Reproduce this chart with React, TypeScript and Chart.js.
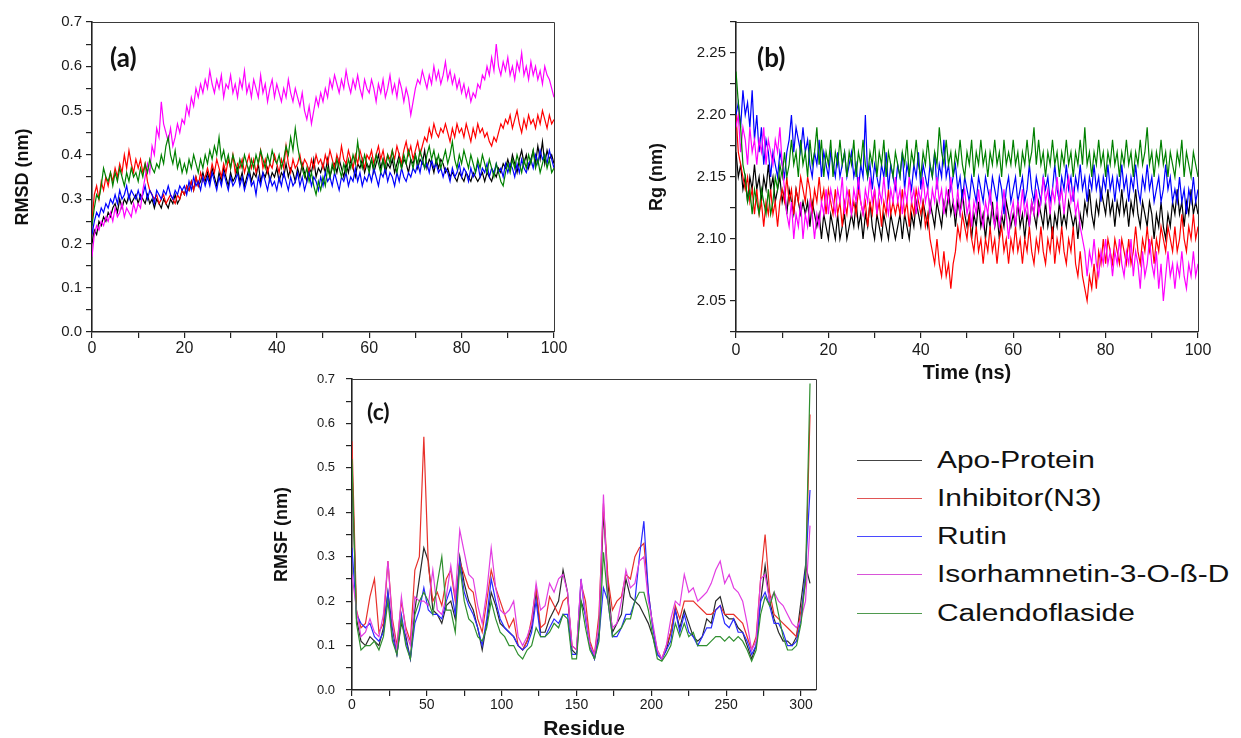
import React, { useEffect, useRef } from "react";
import { Chart, registerables } from "chart.js";

Chart.register(...registerables);

const FONT = '"Liberation Sans", Arial, sans-serif';

// ---------- series names & colours ----------
const SERIES_NAMES = ["Apo-Protein", "Inhibitor(N3)", "Rutin", "Isorhamnetin-3-O-ß-D", "Calendoflaside"];
const LINE_COLORS = ["#000000", "#ff0000", "#0000ff", "#ff00ff", "#008000"];
const RMSF_COLORS = ["#2a2a2a", "#e8302a", "#2a2aff", "#e23ee2", "#2f8f2f"];
const LEGEND_COLORS = ["#444444", "#e05555", "#4a4aff", "#d855d8", "#4f9a4f"];

// ---------- x values ----------
const TIME = [
  0, 0.5, 1, 1.5, 2, 2.5, 3, 3.5, 4, 4.5, 5, 5.5, 6, 6.5, 7, 7.5, 8, 8.5, 9, 9.5,
  10, 10.5, 11, 11.5, 12, 12.5, 13, 13.5, 14, 14.5, 15, 15.5, 16, 16.5, 17, 17.5, 18, 18.5, 19, 19.5,
  20, 20.5, 21, 21.5, 22, 22.5, 23, 23.5, 24, 24.5, 25, 25.5, 26, 26.5, 27, 27.5, 28, 28.5, 29, 29.5,
  30, 30.5, 31, 31.5, 32, 32.5, 33, 33.5, 34, 34.5, 35, 35.5, 36, 36.5, 37, 37.5, 38, 38.5, 39, 39.5,
  40, 40.5, 41, 41.5, 42, 42.5, 43, 43.5, 44, 44.5, 45, 45.5, 46, 46.5, 47, 47.5, 48, 48.5, 49, 49.5,
  50, 50.5, 51, 51.5, 52, 52.5, 53, 53.5, 54, 54.5, 55, 55.5, 56, 56.5, 57, 57.5, 58, 58.5, 59, 59.5,
  60, 60.5, 61, 61.5, 62, 62.5, 63, 63.5, 64, 64.5, 65, 65.5, 66, 66.5, 67, 67.5, 68, 68.5, 69, 69.5,
  70, 70.5, 71, 71.5, 72, 72.5, 73, 73.5, 74, 74.5, 75, 75.5, 76, 76.5, 77, 77.5, 78, 78.5, 79, 79.5,
  80, 80.5, 81, 81.5, 82, 82.5, 83, 83.5, 84, 84.5, 85, 85.5, 86, 86.5, 87, 87.5, 88, 88.5, 89, 89.5,
  90, 90.5, 91, 91.5, 92, 92.5, 93, 93.5, 94, 94.5, 95, 95.5, 96, 96.5, 97, 97.5, 98, 98.5, 99, 99.5,
  100,
];
const RESIDUE = [
  0, 3, 6, 9, 12, 15, 18, 21, 24, 27, 30, 33, 36, 39, 42, 45, 48, 51, 54, 57,
  60, 63, 66, 69, 72, 75, 78, 81, 84, 87, 90, 93, 96, 99, 102, 105, 108, 111, 114, 117,
  120, 123, 126, 129, 132, 135, 138, 141, 144, 147, 150, 153, 156, 159, 162, 165, 168, 171, 174, 177,
  180, 183, 186, 189, 192, 195, 198, 201, 204, 207, 210, 213, 216, 219, 222, 225, 228, 231, 234, 237,
  240, 243, 246, 249, 252, 255, 258, 261, 264, 267, 270, 273, 276, 279, 282, 285, 288, 291, 294, 297,
  300, 303, 306,
];

// ---------- tick values ----------
const TIME_TICKS = [0, 10, 20, 30, 40, 50, 60, 70, 80, 90, 100];
const NM_TICKS = [0, 0.05, 0.1, 0.15, 0.2, 0.25, 0.3, 0.35, 0.4, 0.45, 0.5, 0.55, 0.6, 0.65, 0.7];
const RG_TICKS = [2.025, 2.05, 2.075, 2.1, 2.125, 2.15, 2.175, 2.2, 2.225, 2.25, 2.275];
const RESIDUE_TICKS = [0, 25, 50, 75, 100, 125, 150, 175, 200, 225, 250, 275, 300];

// ---------- (a) RMSD (nm), every 0.5 ns ----------
const RMSD_APO = [
  0.20, 0.23, 0.22, 0.25, 0.24, 0.26, 0.25, 0.27, 0.26, 0.28,
  0.29, 0.27, 0.30, 0.28, 0.30, 0.29, 0.31, 0.29, 0.30, 0.31,
  0.29, 0.31, 0.30, 0.29, 0.31, 0.29, 0.30, 0.28, 0.30, 0.29,
  0.28, 0.30, 0.29, 0.28, 0.30, 0.29, 0.31, 0.29, 0.30, 0.32,
  0.31, 0.33, 0.32, 0.34, 0.32, 0.35, 0.33, 0.34, 0.36, 0.34,
  0.36, 0.34, 0.37, 0.35, 0.33, 0.36, 0.34, 0.37, 0.35, 0.33,
  0.36, 0.34, 0.35, 0.37, 0.34, 0.36, 0.33, 0.35, 0.37, 0.34,
  0.36, 0.35, 0.38, 0.34, 0.36, 0.35, 0.37, 0.34, 0.36, 0.35,
  0.37, 0.34, 0.36, 0.35, 0.38, 0.35, 0.37, 0.36, 0.34, 0.37,
  0.35, 0.38, 0.36, 0.34, 0.37, 0.36, 0.39, 0.35, 0.37, 0.36,
  0.38, 0.36, 0.39, 0.35, 0.37, 0.38, 0.36, 0.39, 0.37, 0.35,
  0.38, 0.36, 0.39, 0.37, 0.35, 0.38, 0.37, 0.39, 0.36, 0.38,
  0.37, 0.39, 0.36, 0.38, 0.40, 0.37, 0.39, 0.36, 0.38, 0.37,
  0.39, 0.36, 0.38, 0.40, 0.37, 0.39, 0.38, 0.36, 0.39, 0.38,
  0.40, 0.37, 0.39, 0.38, 0.41, 0.37, 0.39, 0.38, 0.36, 0.39,
  0.37, 0.39, 0.38, 0.36, 0.37, 0.35, 0.36, 0.35, 0.34, 0.36,
  0.35, 0.34, 0.36, 0.35, 0.34, 0.36, 0.35, 0.34, 0.35, 0.36,
  0.34, 0.36, 0.35, 0.34, 0.36, 0.35, 0.37, 0.36, 0.38, 0.37,
  0.39, 0.37, 0.40, 0.38, 0.36, 0.39, 0.41, 0.38, 0.40, 0.37,
  0.39, 0.41, 0.38, 0.42, 0.39, 0.43, 0.38, 0.41, 0.39, 0.40,
  0.38,
];
const RMSD_N3 = [
  0.25, 0.31, 0.33, 0.30, 0.34, 0.32, 0.35, 0.33, 0.36, 0.34,
  0.37, 0.35, 0.38, 0.36, 0.40, 0.37, 0.41, 0.38, 0.36, 0.39,
  0.37, 0.39, 0.36, 0.38, 0.34, 0.32, 0.31, 0.30, 0.31, 0.29,
  0.30, 0.31, 0.29, 0.30, 0.31, 0.30, 0.29, 0.31, 0.30, 0.32,
  0.31, 0.33, 0.32, 0.34, 0.32, 0.35, 0.33, 0.36, 0.34, 0.35,
  0.37, 0.35, 0.38, 0.36, 0.39, 0.37, 0.35, 0.38, 0.36, 0.39,
  0.37, 0.40, 0.36, 0.38, 0.37, 0.39, 0.36, 0.38, 0.40, 0.37,
  0.39, 0.36, 0.38, 0.41, 0.37, 0.39, 0.36, 0.38, 0.37, 0.40,
  0.38, 0.36, 0.39, 0.37, 0.42, 0.38, 0.36, 0.39, 0.37, 0.38,
  0.40, 0.37, 0.39, 0.38, 0.36, 0.39, 0.37, 0.40, 0.38, 0.39,
  0.37, 0.40, 0.38, 0.41, 0.39, 0.37, 0.40, 0.38, 0.42, 0.39,
  0.38, 0.41, 0.39, 0.37, 0.40, 0.38, 0.41, 0.39, 0.37, 0.40,
  0.39, 0.41, 0.38, 0.40, 0.42, 0.39, 0.41, 0.38, 0.40, 0.39,
  0.41, 0.39, 0.42, 0.40, 0.38, 0.41, 0.43, 0.40, 0.42, 0.39,
  0.41, 0.43, 0.40, 0.42, 0.44, 0.43, 0.46, 0.44, 0.47, 0.45,
  0.44, 0.46, 0.45, 0.47, 0.45, 0.43, 0.46, 0.44, 0.47, 0.45,
  0.46, 0.44, 0.47, 0.45, 0.43, 0.46, 0.44, 0.47, 0.45, 0.46,
  0.44, 0.45, 0.43, 0.42, 0.44, 0.43, 0.45, 0.47, 0.46, 0.48,
  0.47, 0.49, 0.46, 0.48, 0.50, 0.47, 0.45, 0.48, 0.46, 0.49,
  0.47, 0.48, 0.46, 0.49, 0.47, 0.50, 0.48, 0.46, 0.49, 0.47,
  0.48,
];
const RMSD_RUTIN = [
  0.22, 0.25, 0.27, 0.26, 0.28, 0.27, 0.29, 0.28, 0.30, 0.29,
  0.31, 0.29, 0.32, 0.30, 0.31, 0.33, 0.30, 0.32, 0.31, 0.30,
  0.32, 0.30, 0.31, 0.33, 0.30, 0.32, 0.31, 0.29, 0.32, 0.31,
  0.30, 0.32, 0.31, 0.33, 0.31, 0.30, 0.32, 0.31, 0.33, 0.32,
  0.33, 0.31, 0.34, 0.32, 0.35, 0.33, 0.34, 0.32, 0.35, 0.33,
  0.35, 0.33, 0.36, 0.34, 0.32, 0.35, 0.33, 0.36, 0.34, 0.32,
  0.35, 0.33, 0.34, 0.36, 0.33, 0.35, 0.32, 0.34, 0.36, 0.33,
  0.34, 0.31, 0.35, 0.33, 0.36, 0.34, 0.32, 0.35, 0.33, 0.34,
  0.32, 0.35, 0.33, 0.36, 0.34, 0.32, 0.35, 0.33, 0.34, 0.36,
  0.33, 0.35, 0.32, 0.34, 0.36, 0.33, 0.35, 0.34, 0.32, 0.35,
  0.33, 0.36, 0.34, 0.35, 0.33, 0.36, 0.34, 0.32, 0.35, 0.34,
  0.36, 0.33, 0.35, 0.34, 0.37, 0.34, 0.36, 0.33, 0.35, 0.34,
  0.36, 0.34, 0.37, 0.35, 0.33, 0.36, 0.35, 0.37, 0.34, 0.36,
  0.35, 0.33, 0.36, 0.34, 0.37, 0.35, 0.34, 0.36, 0.35, 0.37,
  0.36, 0.38, 0.36, 0.39, 0.37, 0.38, 0.36, 0.39, 0.37, 0.38,
  0.36, 0.37, 0.35, 0.37, 0.36, 0.34, 0.37, 0.35, 0.36, 0.38,
  0.35, 0.37, 0.36, 0.34, 0.37, 0.35, 0.36, 0.38, 0.35, 0.37,
  0.36, 0.38, 0.35, 0.37, 0.36, 0.38, 0.36, 0.37, 0.35, 0.38,
  0.36, 0.38, 0.37, 0.35, 0.38, 0.36, 0.39, 0.37, 0.36, 0.38,
  0.39, 0.37, 0.40, 0.38, 0.41, 0.39, 0.40, 0.38, 0.41, 0.39,
  0.37,
];
const RMSD_ISO = [
  0.17, 0.22, 0.24, 0.23, 0.25, 0.24, 0.26, 0.25, 0.27, 0.25,
  0.28, 0.26, 0.27, 0.29, 0.26, 0.28, 0.27, 0.26, 0.29, 0.27,
  0.29, 0.28, 0.32, 0.35, 0.38, 0.36, 0.42, 0.40, 0.46, 0.44,
  0.52, 0.47, 0.45, 0.43, 0.46, 0.42, 0.44, 0.47, 0.45, 0.48,
  0.47, 0.51, 0.49, 0.53, 0.51, 0.55, 0.53, 0.56, 0.54, 0.57,
  0.55, 0.59, 0.56, 0.54, 0.57, 0.55, 0.58, 0.53, 0.56, 0.55,
  0.58, 0.54, 0.56, 0.53, 0.57, 0.55, 0.59, 0.54, 0.56, 0.53,
  0.57, 0.55, 0.53, 0.58, 0.54, 0.56, 0.52, 0.55, 0.57, 0.53,
  0.56, 0.54, 0.52, 0.55, 0.53, 0.57, 0.54, 0.52, 0.55, 0.53,
  0.51, 0.54, 0.50, 0.48, 0.51, 0.47, 0.50, 0.53, 0.51, 0.54,
  0.52, 0.55, 0.53, 0.57, 0.55, 0.58, 0.56, 0.54, 0.57, 0.55,
  0.59, 0.56, 0.54, 0.57, 0.55, 0.58, 0.55, 0.53, 0.57, 0.55,
  0.54, 0.57, 0.55, 0.52, 0.56, 0.54, 0.57, 0.53, 0.55, 0.58,
  0.54, 0.56, 0.53, 0.57, 0.55, 0.52, 0.55, 0.53, 0.49, 0.52,
  0.55, 0.57, 0.56, 0.59, 0.57, 0.55, 0.58, 0.56, 0.60, 0.57,
  0.59, 0.56, 0.58, 0.61, 0.57, 0.59, 0.56, 0.58, 0.55, 0.57,
  0.54, 0.56, 0.53, 0.55, 0.52, 0.54, 0.53, 0.56, 0.55, 0.58,
  0.57, 0.60, 0.58, 0.62, 0.59, 0.65, 0.60, 0.58, 0.61, 0.59,
  0.62, 0.58, 0.60, 0.57, 0.61, 0.59, 0.63, 0.58, 0.60, 0.57,
  0.61, 0.58, 0.60, 0.57, 0.59, 0.56, 0.60, 0.58, 0.57, 0.55,
  0.53,
];
const RMSD_CAL = [
  0.24, 0.28, 0.31, 0.30, 0.33, 0.37, 0.35, 0.34, 0.36, 0.33,
  0.36, 0.34, 0.37, 0.35, 0.33, 0.36, 0.34, 0.37, 0.35, 0.36,
  0.34, 0.37, 0.35, 0.38, 0.36, 0.39, 0.37, 0.36, 0.38, 0.37,
  0.40, 0.38, 0.42, 0.44, 0.40, 0.38, 0.41, 0.37, 0.39, 0.36,
  0.38, 0.36, 0.39, 0.37, 0.40, 0.38, 0.36, 0.39, 0.37, 0.40,
  0.38, 0.41, 0.39, 0.42, 0.40, 0.44, 0.39, 0.41, 0.38, 0.40,
  0.37, 0.40, 0.38, 0.36, 0.39, 0.37, 0.40, 0.38, 0.36, 0.39,
  0.37, 0.40, 0.38, 0.41, 0.39, 0.37, 0.40, 0.38, 0.41, 0.39,
  0.38, 0.40, 0.37, 0.39, 0.42, 0.40, 0.44, 0.41, 0.46, 0.42,
  0.39, 0.37, 0.35, 0.37, 0.34, 0.36, 0.33, 0.31, 0.34, 0.32,
  0.35, 0.33, 0.37, 0.35, 0.38, 0.36, 0.39, 0.37, 0.35, 0.38,
  0.36, 0.39, 0.37, 0.40, 0.38, 0.43, 0.39, 0.37, 0.40, 0.38,
  0.36, 0.39, 0.37, 0.40, 0.38, 0.36, 0.39, 0.37, 0.40, 0.38,
  0.41, 0.38, 0.36, 0.39, 0.37, 0.40, 0.38, 0.41, 0.39, 0.37,
  0.40, 0.38, 0.41, 0.39, 0.37, 0.40, 0.42, 0.39, 0.41, 0.38,
  0.40, 0.37, 0.39, 0.41, 0.38, 0.40, 0.43, 0.39, 0.37, 0.40,
  0.38, 0.41, 0.39, 0.37, 0.40, 0.38, 0.36, 0.39, 0.37, 0.40,
  0.38, 0.36, 0.39, 0.37, 0.35, 0.38, 0.36, 0.34, 0.33, 0.36,
  0.38, 0.36, 0.39, 0.37, 0.40, 0.38, 0.36, 0.39, 0.37, 0.40,
  0.38, 0.41, 0.37, 0.39, 0.36, 0.38, 0.40, 0.37, 0.39, 0.36,
  0.37,
];

// ---------- (b) Rg (nm), every 0.5 ns ----------
const RG_APO = [
  2.17, 2.15, 2.16, 2.14, 2.15, 2.13, 2.15, 2.14, 2.16, 2.14,
  2.15, 2.13, 2.15, 2.14, 2.16, 2.14, 2.15, 2.13, 2.14, 2.15,
  2.13, 2.14, 2.12, 2.14, 2.13, 2.12, 2.14, 2.13, 2.12, 2.13,
  2.12, 2.13, 2.11, 2.13, 2.12, 2.11, 2.12, 2.10, 2.12, 2.11,
  2.10, 2.12, 2.11, 2.10, 2.12, 2.10, 2.11, 2.12, 2.10, 2.11,
  2.12, 2.11, 2.13, 2.11, 2.12, 2.10, 2.12, 2.11, 2.13, 2.11,
  2.10, 2.12, 2.11, 2.10, 2.12, 2.11, 2.10, 2.12, 2.11, 2.10,
  2.11, 2.12, 2.10, 2.12, 2.11, 2.10, 2.12, 2.11, 2.13, 2.12,
  2.11, 2.13, 2.12, 2.11, 2.13, 2.12, 2.11, 2.13, 2.12, 2.11,
  2.13, 2.12, 2.14, 2.12, 2.13, 2.11, 2.13, 2.12, 2.14, 2.12,
  2.11, 2.12, 2.10, 2.12, 2.11, 2.13, 2.11, 2.12, 2.10, 2.12,
  2.11, 2.13, 2.11, 2.12, 2.10, 2.12, 2.11, 2.13, 2.12, 2.11,
  2.12, 2.11, 2.13, 2.11, 2.12, 2.10, 2.12, 2.11, 2.13, 2.12,
  2.11, 2.13, 2.12, 2.11, 2.13, 2.11, 2.12, 2.10, 2.12, 2.11,
  2.13, 2.11, 2.12, 2.11, 2.13, 2.12, 2.11, 2.12, 2.10, 2.12,
  2.11, 2.13, 2.12, 2.14, 2.12, 2.11, 2.13, 2.12, 2.14, 2.13,
  2.12, 2.14, 2.12, 2.13, 2.11, 2.13, 2.12, 2.14, 2.12, 2.13,
  2.11, 2.13, 2.12, 2.14, 2.12, 2.11, 2.13, 2.12, 2.11, 2.13,
  2.12, 2.10, 2.12, 2.11, 2.13, 2.11, 2.10, 2.12, 2.11, 2.13,
  2.12, 2.14, 2.12, 2.13, 2.11, 2.13, 2.12, 2.14, 2.12, 2.13,
  2.12,
];
const RG_N3 = [
  2.20, 2.17, 2.16, 2.15, 2.14, 2.15, 2.13, 2.14, 2.12, 2.14,
  2.12, 2.13, 2.11, 2.13, 2.12, 2.14, 2.12, 2.13, 2.11, 2.13,
  2.14, 2.13, 2.15, 2.13, 2.14, 2.12, 2.14, 2.13, 2.15, 2.14,
  2.13, 2.15, 2.14, 2.12, 2.14, 2.13, 2.15, 2.13, 2.14, 2.12,
  2.14, 2.13, 2.12, 2.14, 2.12, 2.13, 2.11, 2.13, 2.12, 2.14,
  2.12, 2.13, 2.12, 2.14, 2.13, 2.12, 2.13, 2.11, 2.13, 2.12,
  2.14, 2.12, 2.13, 2.11, 2.13, 2.12, 2.14, 2.12, 2.13, 2.12,
  2.13, 2.12, 2.14, 2.12, 2.13, 2.11, 2.13, 2.12, 2.14, 2.13,
  2.12, 2.13, 2.11, 2.12, 2.10, 2.09, 2.08, 2.10, 2.08, 2.07,
  2.09, 2.07, 2.08, 2.06, 2.08, 2.09, 2.11, 2.10, 2.12, 2.11,
  2.10, 2.12, 2.10, 2.09, 2.11, 2.09, 2.10, 2.08, 2.10, 2.09,
  2.11, 2.09, 2.10, 2.08, 2.10, 2.11, 2.09, 2.10, 2.08, 2.10,
  2.09, 2.11, 2.09, 2.10, 2.08, 2.10, 2.09, 2.11, 2.09, 2.08,
  2.10, 2.09, 2.11, 2.09, 2.08, 2.10, 2.09, 2.11, 2.08, 2.10,
  2.09, 2.11, 2.09, 2.08, 2.10, 2.09, 2.11, 2.08, 2.07, 2.09,
  2.07, 2.06, 2.05, 2.07, 2.06, 2.08, 2.06, 2.09, 2.08, 2.10,
  2.08, 2.10, 2.09, 2.08, 2.10, 2.09, 2.08, 2.10, 2.09, 2.08,
  2.10, 2.08, 2.09, 2.11, 2.09, 2.08, 2.10, 2.09, 2.11, 2.09,
  2.10, 2.08, 2.10, 2.09, 2.11, 2.10, 2.09, 2.11, 2.10, 2.09,
  2.11, 2.09, 2.10, 2.12, 2.10, 2.09, 2.11, 2.10, 2.12, 2.10,
  2.11,
];
const RG_RUTIN = [
  2.20, 2.21, 2.19, 2.22, 2.20, 2.21, 2.19, 2.22, 2.18, 2.20,
  2.17, 2.19, 2.16, 2.18, 2.17, 2.15, 2.17, 2.16, 2.15, 2.17,
  2.16, 2.15, 2.17, 2.18, 2.20, 2.17, 2.19, 2.18, 2.17, 2.19,
  2.17, 2.18, 2.16, 2.15, 2.17, 2.16, 2.18, 2.15, 2.17, 2.16,
  2.15, 2.17, 2.16, 2.15, 2.17, 2.15, 2.16, 2.17, 2.15, 2.16,
  2.17, 2.15, 2.16, 2.14, 2.16, 2.15, 2.20, 2.15, 2.16, 2.14,
  2.16, 2.15, 2.14, 2.16, 2.15, 2.17, 2.14, 2.16, 2.15, 2.14,
  2.16, 2.15, 2.17, 2.14, 2.16, 2.15, 2.14, 2.16, 2.15, 2.17,
  2.14, 2.16, 2.15, 2.14, 2.16, 2.15, 2.17, 2.14, 2.16, 2.15,
  2.18, 2.15, 2.16, 2.14, 2.15, 2.16, 2.14, 2.15, 2.13, 2.15,
  2.14, 2.13, 2.15, 2.14, 2.13, 2.15, 2.14, 2.13, 2.15, 2.14,
  2.13, 2.15, 2.14, 2.13, 2.15, 2.14, 2.12, 2.14, 2.15, 2.13,
  2.14, 2.15, 2.13, 2.14, 2.15, 2.13, 2.14, 2.16, 2.14, 2.13,
  2.15, 2.14, 2.13, 2.15, 2.14, 2.15, 2.13, 2.14, 2.16, 2.14,
  2.13, 2.15, 2.14, 2.16, 2.14, 2.15, 2.13, 2.15, 2.14, 2.16,
  2.14, 2.15, 2.13, 2.15, 2.14, 2.16, 2.14, 2.15, 2.13, 2.15,
  2.14, 2.16, 2.14, 2.15, 2.13, 2.15, 2.14, 2.16, 2.14, 2.15,
  2.13, 2.15, 2.14, 2.16, 2.14, 2.13, 2.15, 2.14, 2.16, 2.14,
  2.15, 2.13, 2.14, 2.15, 2.13, 2.14, 2.16, 2.14, 2.15, 2.13,
  2.14, 2.13, 2.15, 2.13, 2.14, 2.12, 2.14, 2.13, 2.15, 2.13,
  2.14,
];
const RG_ISO = [
  2.19, 2.20, 2.17, 2.19, 2.18, 2.16, 2.19, 2.17, 2.18, 2.16,
  2.18, 2.17, 2.19, 2.16, 2.18, 2.17, 2.16, 2.18, 2.17, 2.19,
  2.16, 2.14, 2.12, 2.11, 2.13, 2.10, 2.12, 2.11, 2.13, 2.10,
  2.12, 2.11, 2.13, 2.12, 2.10, 2.12, 2.11, 2.13, 2.12, 2.14,
  2.12, 2.14, 2.13, 2.12, 2.14, 2.13, 2.15, 2.12, 2.14, 2.13,
  2.12, 2.14, 2.13, 2.15, 2.13, 2.12, 2.14, 2.13, 2.15, 2.13,
  2.14, 2.12, 2.14, 2.13, 2.15, 2.13, 2.12, 2.14, 2.13, 2.15,
  2.13, 2.14, 2.12, 2.14, 2.13, 2.15, 2.13, 2.14, 2.12, 2.14,
  2.13, 2.15, 2.13, 2.14, 2.12, 2.14, 2.13, 2.15, 2.13, 2.14,
  2.12, 2.14, 2.13, 2.15, 2.13, 2.12, 2.14, 2.12, 2.13, 2.14,
  2.12, 2.13, 2.11, 2.13, 2.12, 2.14, 2.12, 2.11, 2.13, 2.12,
  2.14, 2.12, 2.11, 2.13, 2.11, 2.12, 2.14, 2.12, 2.10, 2.12,
  2.13, 2.11, 2.13, 2.12, 2.14, 2.12, 2.13, 2.11, 2.13, 2.12,
  2.14, 2.12, 2.13, 2.15, 2.13, 2.14, 2.12, 2.14, 2.13, 2.15,
  2.13, 2.14, 2.12, 2.14, 2.15, 2.13, 2.14, 2.12, 2.13, 2.11,
  2.10, 2.09, 2.07, 2.09, 2.08, 2.10, 2.08, 2.07, 2.09, 2.08,
  2.10, 2.08, 2.09, 2.07, 2.09, 2.08, 2.10, 2.08, 2.07, 2.09,
  2.08, 2.10, 2.07, 2.09, 2.08, 2.06, 2.09, 2.07, 2.08, 2.10,
  2.08, 2.07, 2.09, 2.06, 2.08, 2.05, 2.07, 2.09, 2.07, 2.08,
  2.06, 2.08, 2.07, 2.09, 2.07, 2.06, 2.08, 2.07, 2.09, 2.07,
  2.08,
];
const RG_CAL = [
  2.235, 2.21, 2.19, 2.16, 2.15, 2.13, 2.14, 2.12, 2.14, 2.13,
  2.12, 2.14, 2.13, 2.12, 2.14, 2.12, 2.13, 2.15, 2.14, 2.16,
  2.15, 2.17, 2.15, 2.16, 2.18, 2.16, 2.17, 2.15, 2.18, 2.16,
  2.17, 2.15, 2.18, 2.16, 2.17, 2.19, 2.16, 2.18, 2.15, 2.17,
  2.16, 2.18, 2.15, 2.17, 2.16, 2.18, 2.16, 2.17, 2.15, 2.17,
  2.16, 2.18, 2.15, 2.17, 2.16, 2.18, 2.16, 2.15, 2.17, 2.16,
  2.18, 2.15, 2.17, 2.16, 2.18, 2.15, 2.17, 2.16, 2.15, 2.17,
  2.16, 2.15, 2.17, 2.16, 2.18, 2.15, 2.17, 2.16, 2.18, 2.16,
  2.15, 2.17, 2.16, 2.18, 2.16, 2.15, 2.17, 2.16, 2.19, 2.17,
  2.16, 2.18, 2.16, 2.17, 2.15, 2.17, 2.16, 2.18, 2.16, 2.15,
  2.17, 2.16, 2.18, 2.15, 2.17, 2.16, 2.18, 2.16, 2.17, 2.15,
  2.17, 2.16, 2.18, 2.16, 2.17, 2.15, 2.18, 2.16, 2.17, 2.16,
  2.18, 2.16, 2.17, 2.15, 2.17, 2.16, 2.18, 2.16, 2.17, 2.19,
  2.16, 2.18, 2.16, 2.17, 2.15, 2.17, 2.16, 2.18, 2.16, 2.17,
  2.15, 2.17, 2.16, 2.18, 2.16, 2.17, 2.15, 2.17, 2.16, 2.18,
  2.16, 2.19, 2.16, 2.17, 2.15, 2.17, 2.16, 2.18, 2.16, 2.17,
  2.15, 2.17, 2.16, 2.18, 2.16, 2.17, 2.15, 2.17, 2.16, 2.18,
  2.16, 2.17, 2.15, 2.17, 2.16, 2.18, 2.16, 2.17, 2.19, 2.16,
  2.17, 2.15, 2.17, 2.16, 2.18, 2.16, 2.17, 2.15, 2.17, 2.16,
  2.15, 2.17, 2.16, 2.18, 2.15, 2.17, 2.16, 2.15, 2.17, 2.16,
  2.15,
];

// ---------- (c) RMSF (nm), every 3 residues ----------
const RMSF_APO = [
  0.5, 0.16, 0.11, 0.1, 0.12, 0.11, 0.1, 0.14, 0.22, 0.14,
  0.08, 0.15, 0.12, 0.07, 0.18, 0.25, 0.32, 0.29, 0.18, 0.17,
  0.15, 0.19, 0.2, 0.16, 0.3, 0.24, 0.2, 0.18, 0.14, 0.09,
  0.15, 0.22, 0.19, 0.15, 0.14, 0.13, 0.12, 0.1, 0.09, 0.11,
  0.14, 0.22, 0.13, 0.13, 0.16, 0.18, 0.2, 0.27, 0.22, 0.09,
  0.08, 0.2, 0.17, 0.1, 0.07, 0.13, 0.4, 0.24, 0.13, 0.15,
  0.17, 0.25, 0.21, 0.2, 0.19, 0.17, 0.15, 0.12, 0.08, 0.07,
  0.09, 0.13, 0.18, 0.14, 0.18, 0.15, 0.12, 0.11, 0.12, 0.16,
  0.15, 0.2, 0.21, 0.17, 0.16, 0.16, 0.14, 0.13, 0.1, 0.07,
  0.1, 0.2, 0.28, 0.2, 0.16, 0.13, 0.11, 0.11, 0.1, 0.12,
  0.2, 0.28, 0.24,
];
const RMSF_N3 = [
  0.56, 0.18, 0.14, 0.15, 0.21, 0.25, 0.13, 0.15, 0.29, 0.16,
  0.1, 0.2, 0.14, 0.11, 0.27, 0.3, 0.57, 0.28, 0.2, 0.22,
  0.19, 0.25, 0.27, 0.2, 0.29, 0.26, 0.23, 0.22, 0.16, 0.13,
  0.2, 0.27, 0.23, 0.2, 0.17, 0.14, 0.16, 0.1, 0.09, 0.11,
  0.16, 0.23, 0.14, 0.15, 0.21, 0.19, 0.17, 0.2, 0.21, 0.1,
  0.09, 0.24, 0.2, 0.11, 0.08, 0.17, 0.42, 0.25, 0.18, 0.2,
  0.21, 0.26, 0.25, 0.3, 0.32, 0.33, 0.22, 0.14, 0.09, 0.07,
  0.1, 0.13, 0.19, 0.16, 0.2, 0.2, 0.2, 0.19, 0.18, 0.17,
  0.17, 0.18, 0.19, 0.17, 0.17, 0.17, 0.16, 0.15, 0.12, 0.09,
  0.12, 0.25, 0.35, 0.22, 0.17, 0.16, 0.15, 0.14, 0.13, 0.12,
  0.18, 0.24, 0.62,
];
const RMSF_RUTIN = [
  0.32, 0.17, 0.15, 0.14, 0.15, 0.12, 0.11, 0.13, 0.22, 0.12,
  0.08, 0.17, 0.11, 0.07, 0.15, 0.18, 0.23, 0.18, 0.17, 0.17,
  0.16, 0.2, 0.23, 0.17, 0.29, 0.22, 0.19, 0.17, 0.14, 0.1,
  0.16, 0.25, 0.2, 0.16, 0.14, 0.13, 0.12, 0.1, 0.09, 0.1,
  0.13, 0.2, 0.12, 0.12, 0.14, 0.16, 0.15, 0.17, 0.17, 0.08,
  0.08, 0.25, 0.16, 0.1, 0.07, 0.12, 0.23, 0.2, 0.12, 0.12,
  0.14, 0.17, 0.17, 0.2, 0.3, 0.38, 0.22, 0.14, 0.08, 0.07,
  0.09, 0.11, 0.18, 0.13, 0.17, 0.13, 0.12, 0.1, 0.12, 0.14,
  0.14, 0.18, 0.19, 0.15, 0.14, 0.16, 0.13, 0.13, 0.11, 0.08,
  0.1, 0.2, 0.22, 0.19, 0.15, 0.15, 0.13, 0.1, 0.1, 0.11,
  0.16, 0.27, 0.45,
];
const RMSF_ISO = [
  0.26, 0.18, 0.12, 0.13, 0.16, 0.13, 0.12, 0.17, 0.29, 0.15,
  0.09, 0.21, 0.13, 0.1, 0.21, 0.2, 0.2, 0.19, 0.27, 0.18,
  0.17, 0.21, 0.28, 0.21, 0.36, 0.31, 0.26, 0.25, 0.19, 0.15,
  0.22, 0.32, 0.23, 0.18, 0.17, 0.18, 0.2, 0.12, 0.1, 0.12,
  0.15, 0.24, 0.18, 0.19, 0.24, 0.22, 0.25, 0.26, 0.22, 0.1,
  0.09, 0.25, 0.17, 0.1, 0.08, 0.15, 0.44, 0.2, 0.14, 0.15,
  0.2, 0.27, 0.23, 0.24, 0.29, 0.3, 0.2, 0.15, 0.09, 0.07,
  0.1, 0.16, 0.2, 0.19, 0.26, 0.22, 0.23, 0.2, 0.21, 0.22,
  0.24, 0.27, 0.29, 0.24, 0.26, 0.23, 0.22, 0.2, 0.15, 0.09,
  0.11, 0.25, 0.26, 0.2, 0.22, 0.2, 0.19, 0.17, 0.15, 0.14,
  0.16, 0.2, 0.37,
];
const RMSF_CAL = [
  0.52, 0.15, 0.09, 0.1, 0.1, 0.11, 0.09, 0.12, 0.2, 0.11,
  0.08, 0.16, 0.1, 0.07, 0.17, 0.2, 0.22, 0.2, 0.17, 0.24,
  0.3, 0.18, 0.18, 0.13, 0.28, 0.2, 0.16, 0.15, 0.12, 0.11,
  0.14, 0.2, 0.16, 0.13, 0.12, 0.1, 0.1, 0.08, 0.07, 0.09,
  0.1, 0.14, 0.12, 0.12, 0.13, 0.15, 0.14, 0.17, 0.16, 0.07,
  0.07, 0.2, 0.14, 0.09, 0.07, 0.11, 0.31, 0.2, 0.12, 0.13,
  0.14, 0.16, 0.16, 0.2, 0.22, 0.22, 0.18, 0.12, 0.07, 0.065,
  0.08, 0.1, 0.15, 0.12, 0.15, 0.12, 0.13, 0.1, 0.1, 0.1,
  0.11, 0.12, 0.12, 0.11, 0.12, 0.11, 0.12, 0.11, 0.09, 0.065,
  0.09, 0.17, 0.21, 0.19, 0.22, 0.17, 0.12, 0.09, 0.09, 0.1,
  0.15, 0.25, 0.69,
];

const RMSD_SERIES = [RMSD_APO, RMSD_N3, RMSD_RUTIN, RMSD_ISO, RMSD_CAL];
const RG_SERIES = [RG_APO, RG_N3, RG_RUTIN, RG_ISO, RG_CAL];
const RMSF_SERIES = [RMSF_APO, RMSF_N3, RMSF_RUTIN, RMSF_ISO, RMSF_CAL];

// ---------- helpers ----------
type AxisSpec = {
  min: number;
  max: number;
  ticks: number[];
  major: number;
  decimals: number;
  font: number;
  tickLen: number;
  pad: number;
  title?: string;
  titleFont?: number;
  titlePad?: number;
};

function buildAxis(a: AxisSpec, horizontal: boolean, thickness: number) {
  return {
    type: "linear",
    position: horizontal ? "bottom" : "left",
    min: a.min,
    max: a.max,
    bounds: "data",
    afterBuildTicks: (s: any) => {
      s.ticks = a.ticks.map((v) => ({ value: v }));
    },
    afterFit: (s: any) => {
      if (horizontal) {
        s.height = thickness;
        s.paddingLeft = 0;
        s.paddingRight = 0;
      } else {
        s.width = thickness;
        s.paddingTop = 0;
        s.paddingBottom = 0;
      }
    },
    ticks: {
      autoSkip: false,
      maxRotation: 0,
      minRotation: 0,
      padding: a.pad,
      color: "#1a1a1a",
      font: { family: FONT, size: a.font },
      callback: (v: any) => {
        const q = Number(v) / a.major;
        return Math.abs(q - Math.round(q)) < 1e-6 ? Number(v).toFixed(a.decimals) : "";
      },
    },
    grid: {
      display: true,
      drawOnChartArea: false,
      drawTicks: true,
      tickLength: a.tickLen,
      color: "#222",
      lineWidth: 1.2,
    },
    border: { display: true, color: "#222", width: 1.6 },
    title: a.title
      ? {
          display: true,
          text: a.title,
          color: "#111",
          font: { family: FONT, size: a.titleFont, weight: "bold", lineHeight: 1.2 },
          padding: horizontal ? { top: 0, bottom: a.titlePad } : { top: a.titlePad, bottom: 0 },
        }
      : { display: false },
  };
}

const framePlugin = {
  id: "frame",
  afterDatasetsDraw(chart: any) {
    const { ctx, chartArea } = chart;
    const { left, top, right, bottom } = chartArea;
    ctx.save();
    ctx.strokeStyle = "#3a3a3a";
    ctx.lineWidth = 1;
    ctx.beginPath();
    ctx.moveTo(left, top + 0.5);
    ctx.lineTo(right + 0.5, top + 0.5);
    ctx.lineTo(right + 0.5, bottom);
    ctx.stroke();
    ctx.restore();
  },
};

type PanelProps = {
  box: { x: number; y: number; w: number; h: number };
  area: { l: number; t: number; r: number; b: number };
  xs: number[];
  series: number[][];
  colors: string[];
  lineWidth: number;
  xAxis: AxisSpec;
  yAxis: AxisSpec;
};

function Panel({ box, area, xs, series, colors, lineWidth, xAxis, yAxis }: PanelProps) {
  const ref = useRef<HTMLCanvasElement>(null);
  useEffect(() => {
    const canvas = ref.current;
    if (!canvas) return;
    const l = area.l - box.x;
    const t = area.t - box.y;
    const r = area.r - box.x;
    const b = area.b - box.y;
    const datasets = series.map((ys, i) => ({
      label: SERIES_NAMES[i],
      data: ys.map((y, k) => ({ x: xs[k], y })),
      borderColor: colors[i],
      backgroundColor: colors[i],
      borderWidth: lineWidth,
      pointRadius: 0,
      fill: false,
      tension: 0,
      order: 5 - i,
    }));
    const chart = new Chart(canvas, {
      type: "line",
      data: { datasets },
      options: {
        animation: false,
        responsive: false,
        maintainAspectRatio: false,
        devicePixelRatio: 1,
        events: [],
        layout: { padding: { left: 0, top: t, right: box.w - r, bottom: 0 } },
        plugins: { legend: { display: false }, tooltip: { enabled: false }, title: { display: false } },
        scales: {
          x: buildAxis(xAxis, true, box.h - b),
          y: buildAxis(yAxis, false, l),
        },
      } as any,
      plugins: [framePlugin],
    });
    return () => chart.destroy();
  }, []);
  return (
    <canvas
      ref={ref}
      width={box.w}
      height={box.h}
      style={{ position: "absolute", left: box.x, top: box.y, width: box.w, height: box.h }}
    />
  );
}

const panelLabel: React.CSSProperties = {
  position: "absolute",
  fontFamily: "Lato, 'Open Sans', sans-serif",
  fontWeight: 700,
  fontSize: 26,
  lineHeight: 1,
  color: "#111",
};

export default function App() {
  return (
    <div
      style={{
        position: "fixed",
        left: 0,
        top: 0,
        width: 1241,
        height: 738,
        background: "#ffffff",
        overflow: "hidden",
      }}
    >
      <Panel
        box={{ x: 0, y: 0, w: 600, h: 370 }}
        area={{ l: 92, t: 22, r: 554, b: 332 }}
        xs={TIME}
        series={RMSD_SERIES}
        colors={LINE_COLORS}
        lineWidth={1.2}
        xAxis={{ min: 0, max: 100, ticks: TIME_TICKS, major: 20, decimals: 0, font: 16, tickLen: 6, pad: 1 }}
        yAxis={{
          min: 0, max: 0.7, ticks: NM_TICKS, major: 0.1, decimals: 1, font: 15, tickLen: 6, pad: 4,
          title: "RMSD (nm)", titleFont: 18, titlePad: 12,
        }}
      />
      <Panel
        box={{ x: 620, y: 0, w: 621, h: 392 }}
        area={{ l: 736, t: 22, r: 1198, b: 332 }}
        xs={TIME}
        series={RG_SERIES}
        colors={LINE_COLORS}
        lineWidth={1.2}
        xAxis={{
          min: 0, max: 100, ticks: TIME_TICKS, major: 20, decimals: 0, font: 16, tickLen: 6, pad: 3,
          title: "Time (ns)", titleFont: 20, titlePad: 7,
        }}
        yAxis={{
          min: 2.025, max: 2.275, ticks: RG_TICKS, major: 0.05, decimals: 2, font: 15, tickLen: 6, pad: 4,
          title: "Rg (nm)", titleFont: 18, titlePad: 26,
        }}
      />
      <Panel
        box={{ x: 230, y: 360, w: 620, h: 392 }}
        area={{ l: 352, t: 379, r: 816, b: 690 }}
        xs={RESIDUE}
        series={RMSF_SERIES}
        colors={RMSF_COLORS}
        lineWidth={1.2}
        xAxis={{
          min: 0, max: 310, ticks: RESIDUE_TICKS, major: 50, decimals: 0, font: 14, tickLen: 6, pad: 1,
          title: "Residue", titleFont: 21, titlePad: 10,
        }}
        yAxis={{
          min: 0, max: 0.7, ticks: NM_TICKS, major: 0.1, decimals: 1, font: 13, tickLen: 6, pad: 11,
          title: "RMSF (nm)", titleFont: 18, titlePad: 41,
        }}
      />

      <div style={{ ...panelLabel, left: 110, top: 44 }}>(a)</div>
      <div style={{ ...panelLabel, left: 757, top: 44 }}>(b)</div>
      <div style={{ ...panelLabel, left: 367, top: 400, fontSize: 23 }}>(c)</div>

      {SERIES_NAMES.map((name, i) => (
        <div
          key={name}
          style={{
            position: "absolute",
            left: 857,
            top: 445 + i * 38.3,
            height: 30,
            display: "flex",
            alignItems: "center",
          }}
        >
          <div style={{ width: 65, height: 0, borderTop: `1.5px solid ${LEGEND_COLORS[i]}` }} />
          <span
            style={{
              display: "inline-block",
              marginLeft: 15,
              fontFamily: FONT,
              fontSize: 23,
              color: "#111",
              whiteSpace: "nowrap",
              transform: "scaleX(1.3)",
              transformOrigin: "left center",
            }}
          >
            {name}
          </span>
        </div>
      ))}
    </div>
  );
}
